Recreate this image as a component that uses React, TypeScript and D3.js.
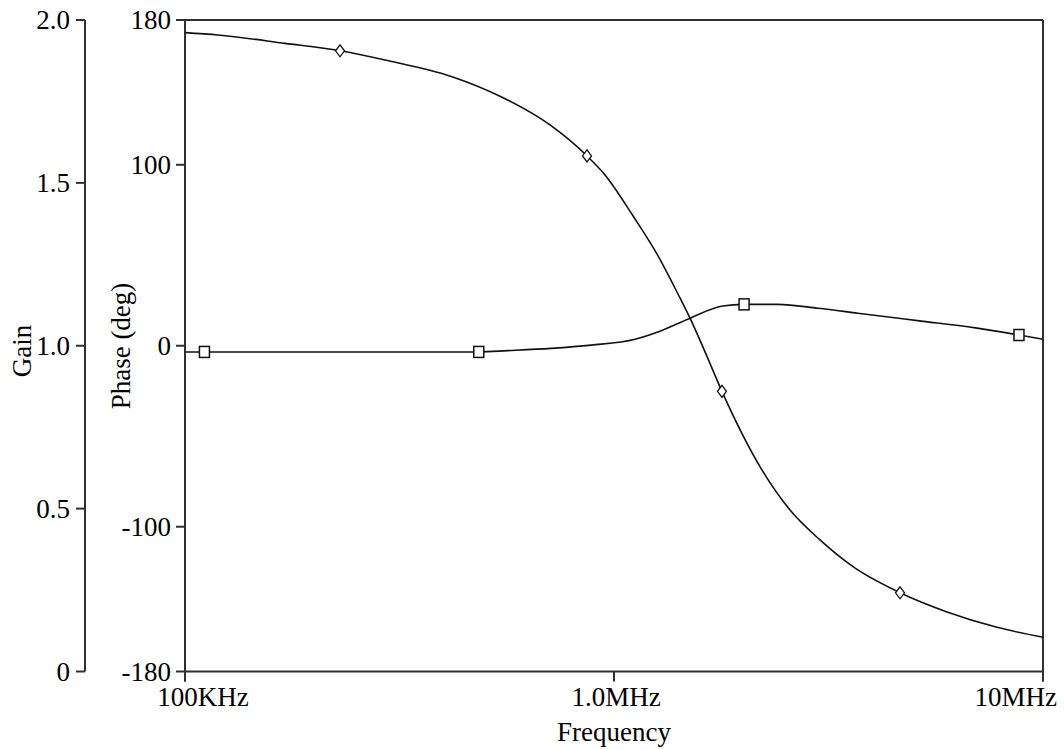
import React from "react";
import * as d3 from "d3";

// Frequency axis
const FREQ_TICKS = [1e5, 1e6, 1e7];
const FREQ_LABELS = ["100KHz", "1.0MHz", "10MHz"];

// Left axes
const GAIN_TICKS = [0, 0.5, 1, 1.5, 2];
const GAIN_LABELS = ["0", "0.5", "1.0", "1.5", "2.0"];
const PHASE_TICKS = [-180, -100, 0, 100, 180];
const PHASE_LABELS = ["-180", "-100", "0", "100", "180"];

// Gain trace (linear magnitude)
const GAIN_FREQ = [
  100e3, 185e3, 353e3, 484e3, 565e3, 713e3, 884e3, 1.12e6, 1.27e6, 1.5e6,
  1.79e6, 2.01e6, 2.41e6, 2.99e6, 3.7e6, 5.1e6, 7.02e6, 8.79e6, 10e6,
];
const GAIN_VALUES = [
  0.981, 0.981, 0.981, 0.981, 0.985, 0.992, 1.002, 1.02, 1.043, 1.084, 1.122,
  1.127, 1.127, 1.115, 1.1, 1.077, 1.054, 1.033, 1.02,
];
const GAIN_MARK_FREQ = [111e3, 484e3, 2.01e6, 8.79e6];
const GAIN_MARK_VALUES = [0.981, 0.981, 1.127, 1.033];

// Phase trace (degrees)
const PHASE_FREQ = [
  100e3, 119.4e3, 171.1e3, 229.8e3, 292.6e3, 419.2e3, 542.4e3, 709.3e3,
  865.1e3, 952.9e3, 1.108e6, 1.26e6, 1.425e6, 1.504e6, 1.63e6, 1.785e6,
  2.189e6, 2.572e6, 3.021e6, 3.607e6, 4.642e6, 5.975e6, 7.812e6, 10e6,
];
const PHASE_VALUES = [
  173.0, 171.7, 167.1, 163.0, 157.9, 148.7, 137.9, 122.0, 104.9, 94.4, 71.7,
  50.6, 26.4, 15.3, -3.4, -25.2, -66.8, -90.8, -107.3, -122.1, -136.5, -147.1,
  -155.6, -161.1,
];
const PHASE_MARK_FREQ = [229.8e3, 865.1e3, 1.785e6, 4.642e6];
const PHASE_MARK_VALUES = [163.0, 104.9, -25.2, -136.5];

const W = 1064;
const H = 749;
const LEFT = 185;
const RIGHT = 1043;
const TOP = 20;
const BOTTOM = 671.5;
const GAIN_AXIS_X = 85;
const FONT = "'Liberation Serif', 'Times New Roman', serif";
const FS = 27;
const AXIS = "#303030";

export default function App() {
  const x = d3.scaleLog().domain([1e5, 1e7]).range([LEFT, RIGHT]);
  const yGain = d3.scaleLinear().domain([0, 2]).range([BOTTOM, TOP]);
  const yPhase = d3.scaleLinear().domain([-180, 180]).range([BOTTOM, TOP]);

  const gainLine = d3
    .line<number>()
    .x((_, i) => x(GAIN_FREQ[i]))
    .y((v) => yGain(v))
    .curve(d3.curveMonotoneX);
  const phaseLine = d3
    .line<number>()
    .x((_, i) => x(PHASE_FREQ[i]))
    .y((v) => yPhase(v))
    .curve(d3.curveMonotoneX);

  const freqAnchor = ["middle", "middle", "end"] as const;
  const freqShift = [18, 2, 14];

  return (
    <svg
      width={W}
      height={H}
      style={{ position: "absolute", left: 0, top: 0, background: "#fff" }}
      fontFamily={FONT}
      fontSize={FS}
    >
      <rect x={0} y={0} width={W} height={H} fill="#fff" />

      {/* gain axis */}
      <line x1={GAIN_AXIS_X} x2={GAIN_AXIS_X} y1={yGain(2)} y2={yGain(0)} stroke={AXIS} strokeWidth={2} />
      {GAIN_TICKS.map((t, i) => (
        <g key={"g" + t}>
          <line x1={GAIN_AXIS_X - 9} x2={GAIN_AXIS_X} y1={yGain(t)} y2={yGain(t)} stroke={AXIS} strokeWidth={2} />
          <text x={70} y={yGain(t) + 9} textAnchor="end" fill="#000">
            {GAIN_LABELS[i]}
          </text>
        </g>
      ))}
      <text transform={`translate(31,351) rotate(-90)`} textAnchor="middle" fill="#000">
        Gain
      </text>

      {/* phase axis and plot frame */}
      <line x1={LEFT} x2={LEFT} y1={TOP} y2={BOTTOM + 10} stroke={AXIS} strokeWidth={2} />
      <line x1={RIGHT} x2={RIGHT} y1={TOP} y2={BOTTOM + 10} stroke={AXIS} strokeWidth={2} />
      <line x1={LEFT} x2={RIGHT} y1={TOP} y2={TOP} stroke={AXIS} strokeWidth={2} />
      <line x1={LEFT} x2={RIGHT} y1={BOTTOM} y2={BOTTOM} stroke={AXIS} strokeWidth={2} />
      {PHASE_TICKS.map((t, i) => (
        <g key={"p" + t}>
          <line x1={LEFT - 9} x2={LEFT} y1={yPhase(t)} y2={yPhase(t)} stroke={AXIS} strokeWidth={2} />
          <text x={171} y={yPhase(t) + 9} textAnchor="end" fill="#000">
            {PHASE_LABELS[i]}
          </text>
        </g>
      ))}
      <text transform={`translate(130,346) rotate(-90)`} textAnchor="middle" fill="#000">
        Phase (deg)
      </text>

      {/* frequency axis */}
      {FREQ_TICKS.map((f, i) => (
        <g key={"f" + f}>
          <line x1={x(f)} x2={x(f)} y1={BOTTOM} y2={BOTTOM + 10} stroke={AXIS} strokeWidth={2} />
          <text x={x(f) + freqShift[i]} y={706} textAnchor={freqAnchor[i]} fill="#000">
            {FREQ_LABELS[i]}
          </text>
        </g>
      ))}
      <text x={x(1e6)} y={741} textAnchor="middle" fill="#000">
        Frequency
      </text>

      {/* traces */}
      <path d={gainLine(GAIN_VALUES) ?? ""} fill="none" stroke="#111" strokeWidth={1.6} />
      <path d={phaseLine(PHASE_VALUES) ?? ""} fill="none" stroke="#111" strokeWidth={1.6} />

      {GAIN_MARK_FREQ.map((f, i) => (
        <rect
          key={"gm" + i}
          x={x(f) - 5}
          y={yGain(GAIN_MARK_VALUES[i]) - 5.5}
          width={10}
          height={11}
          fill="#fff"
          stroke="#111"
          strokeWidth={1.5}
        />
      ))}
      {PHASE_MARK_FREQ.map((f, i) => {
        const cx = x(f);
        const cy = yPhase(PHASE_MARK_VALUES[i]);
        return (
          <path
            key={"pm" + i}
            d={`M${cx},${cy - 6}L${cx + 4.5},${cy}L${cx},${cy + 6}L${cx - 4.5},${cy}Z`}
            fill="#fff"
            stroke="#111"
            strokeWidth={1.3}
          />
        );
      })}
    </svg>
  );
}
